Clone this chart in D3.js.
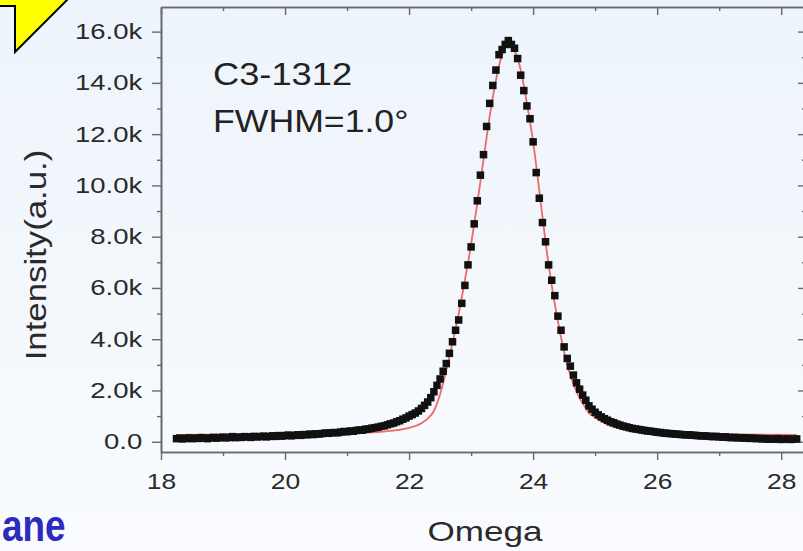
<!DOCTYPE html>
<html>
<head>
<meta charset="utf-8">
<script src="https://cdn.jsdelivr.net/npm/d3@7"></script>
<style>
body { margin: 0; background: #f4f8fd; }
svg { display: block; }
</style>
</head>
<body>
<div id="chart"></div>
<script>

// scan grid (omega, degrees) and measured intensity (k counts)
const omegaStart = 18.25
const omegaStep = 0.05
const intensity = [
0.12,0.14,0.11,0.13,0.15,0.12,0.14,0.13,0.16,0.14,0.12,0.15,0.17,0.14,0.16,0.18,0.15,0.17,0.20,0.16,
0.18,0.17,0.20,0.19,0.17,0.21,0.19,0.20,0.22,0.19,0.21,0.23,0.21,0.24,0.22,0.24,0.26,0.23,0.25,0.27,
0.25,0.28,0.27,0.30,0.28,0.31,0.30,0.32,0.34,0.33,0.35,0.36,0.35,0.38,0.40,0.39,0.42,0.41,0.44,0.46,
0.45,0.49,0.50,0.53,0.55,0.57,0.60,0.62,0.66,0.70,0.73,0.78,0.82,0.88,0.93,1.00,1.06,1.12,1.20,1.30,
1.42,1.55,1.72,1.95,2.20,2.45,2.75,3.05,3.45,3.90,4.35,4.75,5.40,6.10,6.90,7.60,8.50,9.40,10.40,11.20,
12.30,13.20,13.90,14.50,15.10,15.30,15.50,15.65,15.50,15.35,14.95,14.30,13.70,13.10,12.60,11.70,10.50,9.50,8.55,7.80,
6.90,6.30,5.70,4.90,4.35,3.70,3.25,2.95,2.60,2.30,2.05,1.82,1.62,1.40,1.27,1.15,1.05,0.97,0.90,0.84,
0.78,0.74,0.69,0.65,0.61,0.58,0.55,0.52,0.50,0.48,0.46,0.44,0.42,0.41,0.39,0.37,0.36,0.34,0.33,0.32,
0.31,0.30,0.29,0.28,0.27,0.27,0.26,0.25,0.24,0.23,0.23,0.22,0.21,0.20,0.21,0.19,0.18,0.19,0.17,0.16,
0.17,0.15,0.16,0.14,0.15,0.13,0.14,0.12,0.13,0.11,0.12,0.10,0.11,0.10,0.12,0.09,0.10,0.11,0.09,0.10,
0.11
]

// fitted profile (red line)
const fitOmega = [18.25,19.0,20.0,21.0,21.5,21.8,22.0,22.2,22.3,22.4,22.5,22.6,22.7,22.8,22.9,23.0,23.1,23.2,23.3,23.4,23.5,23.6,23.7,23.8,23.9,24.0,24.1,24.2,24.3,24.4,24.5,24.6,24.7,24.8,24.9,25.0,25.2,25.4,25.7,26.0,26.5,27.0,28.25]
const fitIntensity = [0.27,0.28,0.29,0.33,0.38,0.45,0.54,0.72,0.90,1.20,1.85,2.80,3.85,5.00,6.30,7.70,9.30,11.0,12.7,14.1,15.1,15.45,15.25,14.5,13.2,11.7,9.8,7.8,6.1,4.7,3.5,2.6,1.95,1.5,1.12,0.95,0.67,0.52,0.42,0.37,0.32,0.29,0.27]

const xTicks = [18, 20, 22, 24, 26, 28]
const xMinorTicks = [19, 21, 23, 25, 27]
const yTicks = [0, 2, 4, 6, 8, 10, 12, 14, 16]
const yMinorTicks = [1, 3, 5, 7, 9, 11, 13, 15]
const yTickLabels = ['0.0', '2.0k', '4.0k', '6.0k', '8.0k', '10.0k', '12.0k', '14.0k', '16.0k']

const sampleName = 'C3-1312'
const fwhmText = 'FWHM=1.0°'
const xTitle = 'Omega'
const yTitle = 'Intensity(a.u.)'

const width = 803
const height = 551

const svg = d3.select('#chart')
.append('svg')
.attr('width', width)
.attr('height', height)
.style('font-family', '"Liberation Sans", Arial, sans-serif')

const defs = svg.append('defs')
const grad = defs.append('linearGradient')
.attr('id', 'bg')
.attr('x1', 0).attr('y1', 0).attr('x2', 0).attr('y2', 1)
grad.append('stop').attr('offset', '0%').attr('stop-color', '#edf4fb')
grad.append('stop').attr('offset', '100%').attr('stop-color', '#f9fbfe')

svg.append('rect')
.attr('width', width)
.attr('height', height)
.attr('fill', 'url(#bg)')

let x = d3.scaleLinear()
.domain([18, 28.4])
.range([161, 806])

let y = d3.scaleLinear()
.domain([-0.4, 16.96])
.range([452, 7])

const axisColor = '#6a6a6a'

const styleAxis = g => {
	g.selectAll('.domain').attr('stroke', axisColor).attr('stroke-width', 1.6)
	g.selectAll('.tick line').attr('stroke', axisColor).attr('stroke-width', 1.4)
}

// bottom axis
const xAxisG = svg.append('g')
.attr('transform', 'translate(0,452)')
.call(d3.axisBottom(x).tickValues(xTicks).tickSize(8).tickSizeOuter(0).tickPadding(13).tickFormat(d3.format('d')))
xAxisG.call(styleAxis)
xAxisG.selectAll('text')
.attr('font-size', 22)
.attr('fill', '#2a2a2a')
.attr('transform', 'scale(1.2,1)')

svg.append('g')
.attr('transform', 'translate(0,452)')
.call(d3.axisBottom(x).tickValues(xMinorTicks).tickSize(4).tickSizeOuter(0).tickFormat(''))
.call(styleAxis)

// top axis, ticks inward
svg.append('g')
.attr('transform', 'translate(0,7)')
.call(d3.axisBottom(x).tickValues(xTicks).tickSize(8).tickSizeOuter(0).tickFormat(''))
.call(styleAxis)
svg.append('g')
.attr('transform', 'translate(0,7)')
.call(d3.axisBottom(x).tickValues(xMinorTicks).tickSize(4).tickSizeOuter(0).tickFormat(''))
.call(styleAxis)

// left axis
const yAxisG = svg.append('g')
.attr('transform', 'translate(161,0)')
.call(d3.axisLeft(y).tickValues(yTicks).tickSize(9).tickSizeOuter(0).tickPadding(6)
	.tickFormat((d, i) => yTickLabels[i]))
yAxisG.call(styleAxis)
yAxisG.selectAll('text')
.attr('font-size', 22)
.attr('fill', '#2a2a2a')
.attr('transform', 'scale(1.25,1)')

svg.append('g')
.attr('transform', 'translate(161,0)')
.call(d3.axisLeft(y).tickValues(yMinorTicks).tickSize(4).tickSizeOuter(0).tickFormat(''))
.call(styleAxis)

// right axis, ticks inward
svg.append('g')
.attr('transform', 'translate(' + x(28.4) + ',0)')
.call(d3.axisLeft(y).tickValues(yTicks).tickSize(8).tickSizeOuter(0).tickFormat(''))
.call(styleAxis)
svg.append('g')
.attr('transform', 'translate(' + x(28.4) + ',0)')
.call(d3.axisLeft(y).tickValues(yMinorTicks).tickSize(4).tickSizeOuter(0).tickFormat(''))
.call(styleAxis)

// fit line
const fitData = fitOmega.map((o, i) => [o, fitIntensity[i]])

const line = d3.line()
.x(d => x(d[0]))
.y(d => y(d[1]))
.curve(d3.curveMonotoneX)

svg.append('path')
.datum(fitData)
.attr('d', line)
.attr('fill', 'none')
.attr('stroke', '#f06868')
.attr('stroke-width', 1.8)

// measured points
const points = intensity.map((v, i) => ({omega: omegaStart + i * omegaStep, value: v}))
const sq = 7.5

svg.append('g')
.selectAll('rect')
.data(points)
.enter()
.append('rect')
.attr('x', d => x(d.omega) - sq / 2)
.attr('y', d => y(d.value) - sq / 2)
.attr('width', sq)
.attr('height', sq)
.attr('fill', '#111')

// annotations
svg.append('text')
.attr('transform', 'translate(213,85) scale(1.17,1)')
.attr('font-size', 31)
.attr('fill', '#222')
.text(sampleName)

svg.append('text')
.attr('transform', 'translate(213,132) scale(1.15,1)')
.attr('font-size', 31)
.attr('fill', '#222')
.text(fwhmText)

// axis titles
svg.append('text')
.attr('transform', 'translate(485,541) scale(1.3,1)')
.attr('text-anchor', 'middle')
.attr('font-size', 27)
.attr('fill', '#2a2a2a')
.text(xTitle)

svg.append('text')
.attr('transform', 'translate(46,255) rotate(-90) scale(1.2,1)')
.attr('text-anchor', 'middle')
.attr('font-size', 29)
.attr('fill', '#2a2a2a')
.text(yTitle)

// slide decorations around the chart
svg.append('polygon')
.attr('points', '-3,-3 -3,6 15,6 15,52 70,-3')
.attr('fill', '#ffff00')
.attr('stroke', '#000')
.attr('stroke-width', 2)

svg.append('text')
.attr('transform', 'translate(2,541) scale(0.82,1)')
.attr('font-size', 45)
.attr('font-weight', 'bold')
.attr('fill', '#2b2bbd')
.text('ane')

</script>
</body>
</html>
